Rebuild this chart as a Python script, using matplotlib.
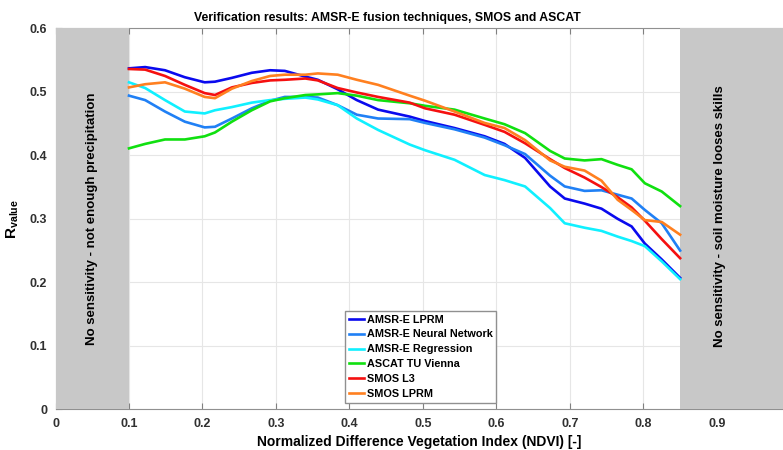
import numpy as np
import matplotlib
matplotlib.use('Agg')
import matplotlib.pyplot as plt

plt.rcParams['font.family'] = ['Liberation Sans', 'DejaVu Sans']
plt.rcParams['font.weight'] = 'bold'
plt.rcParams['mathtext.fontset'] = 'custom'
plt.rcParams['mathtext.rm'] = 'Liberation Sans:bold'
plt.rcParams['mathtext.it'] = 'Liberation Sans:bold'
plt.rcParams['mathtext.bf'] = 'Liberation Sans:bold'

# NDVI
ndvi = [0.100, 0.122, 0.149, 0.176, 0.203, 0.217, 0.240, 0.267, 0.292, 0.312,
        0.340, 0.357, 0.384, 0.410, 0.439, 0.482, 0.503, 0.543, 0.584, 0.611,
        0.639, 0.673, 0.693, 0.720, 0.743, 0.765, 0.784, 0.802, 0.825, 0.850]

amsr_lprm = [0.537, 0.539, 0.534, 0.523, 0.515, 0.516, 0.522, 0.530, 0.534, 0.533,
             0.524, 0.519, 0.504, 0.487, 0.472, 0.461, 0.454, 0.443, 0.430, 0.418,
             0.396, 0.351, 0.332, 0.324, 0.316, 0.300, 0.288, 0.261, 0.236, 0.207]
amsr_nn = [0.494, 0.487, 0.469, 0.453, 0.444, 0.445, 0.458, 0.474, 0.486, 0.492,
           0.492, 0.491, 0.479, 0.464, 0.458, 0.457, 0.451, 0.441, 0.428, 0.416,
           0.402, 0.368, 0.351, 0.344, 0.345, 0.338, 0.332, 0.314, 0.293, 0.250]
amsr_reg = [0.515, 0.506, 0.487, 0.469, 0.466, 0.471, 0.476, 0.483, 0.487, 0.489,
            0.491, 0.488, 0.479, 0.458, 0.440, 0.417, 0.408, 0.393, 0.369, 0.361,
            0.351, 0.317, 0.293, 0.286, 0.281, 0.272, 0.265, 0.257, 0.233, 0.205]
ascat = [0.411, 0.418, 0.425, 0.425, 0.430, 0.436, 0.453, 0.471, 0.485, 0.490,
         0.495, 0.496, 0.498, 0.494, 0.487, 0.482, 0.478, 0.472, 0.458, 0.449,
         0.435, 0.407, 0.395, 0.392, 0.394, 0.385, 0.378, 0.356, 0.343, 0.320]
smos_l3 = [0.536, 0.535, 0.525, 0.511, 0.498, 0.495, 0.507, 0.514, 0.518, 0.519,
           0.521, 0.518, 0.506, 0.499, 0.492, 0.483, 0.474, 0.464, 0.448, 0.437,
           0.419, 0.394, 0.380, 0.365, 0.350, 0.334, 0.318, 0.297, 0.268, 0.238]
smos_lprm = [0.507, 0.512, 0.515, 0.505, 0.492, 0.490, 0.505, 0.517, 0.525, 0.527,
             0.527, 0.529, 0.527, 0.519, 0.511, 0.494, 0.486, 0.469, 0.451, 0.443,
             0.424, 0.392, 0.382, 0.376, 0.360, 0.330, 0.314, 0.298, 0.295, 0.275]

series = [amsr_lprm, amsr_nn, amsr_reg, ascat, smos_l3, smos_lprm]
labels = ['AMSR-E LPRM', 'AMSR-E Neural Network', 'AMSR-E Regression',
          'ASCAT TU Vienna', 'SMOS L3', 'SMOS LPRM']
colores = ['#0a0aee', '#2080f5', '#10f0ff', '#10e010', '#f51010', '#ff8020']

fig = plt.figure(figsize=(7.83, 4.5), dpi=100)
ax = fig.add_axes([0.0709, 0.0904, 0.9291, 0.8466])

for y, lab, c in zip(series, labels, colores):
    ax.plot(ndvi, y, color=c, linewidth=1.9, label=lab, zorder=3)

# zonas sin sensibilidad
ax.axvspan(0, 0.1, color='#c8c8c8', zorder=2.7, linewidth=0)
ax.axvspan(0.85, 1.0, color='#c8c8c8', zorder=2.7, linewidth=0)
ax.text(0.05, 0.3, 'No sensitivity - not enough precipitation', rotation=90,
        ha='center', va='center', fontsize=9.5, fontweight='bold', zorder=4)
ax.text(0.904, 0.304, 'No sensitivity - soil moisture looses skills', rotation=90,
        ha='center', va='center', fontsize=9.5, fontweight='bold', zorder=4)

ax.set_xlim(0, 0.99)
ax.set_ylim(0, 0.6)
ax.set_xticks(np.arange(0, 0.91, 0.1))
ax.set_xticklabels(['0', '0.1', '0.2', '0.3', '0.4', '0.5', '0.6', '0.7', '0.8', '0.9'])
ax.set_yticks(np.arange(0, 0.61, 0.1))
ax.set_yticklabels(['0', '0.1', '0.2', '0.3', '0.4', '0.5', '0.6'])
ax.grid(True, color='#e6e6e6', linewidth=0.8)
ax.set_axisbelow(True)
ax.tick_params(direction='in', length=4, color='#808080', labelsize=9,
               labelcolor='#303030', top=True, pad=6)
for s in ['top', 'bottom', 'left']:
    ax.spines[s].set_color('#909090')
ax.spines['right'].set_visible(False)
for lbl in ax.get_xticklabels() + ax.get_yticklabels():
    lbl.set_fontweight('bold')

ax.set_xlabel('Normalized Difference Vegetation Index (NDVI) [-]', fontsize=10,
              fontweight='bold', labelpad=4)
ax.set_ylabel(r'$\mathrm{R_{value}}$', fontsize=11, labelpad=6)
ax.set_title('Verification results: AMSR-E fusion techniques, SMOS and ASCAT',
             fontsize=8.8, fontweight='bold', x=0.4557, pad=5)

leg = ax.legend(loc='lower left', bbox_to_anchor=(0.391, 0.003),
                handlelength=1.4, handletextpad=0.2, labelspacing=0.45,
                borderpad=0.35, fancybox=False, framealpha=1, edgecolor='#909090',
                prop={'weight': 'bold', 'size': 7.8})
leg.set_zorder(5)

plt.savefig('out.png', dpi=100)
